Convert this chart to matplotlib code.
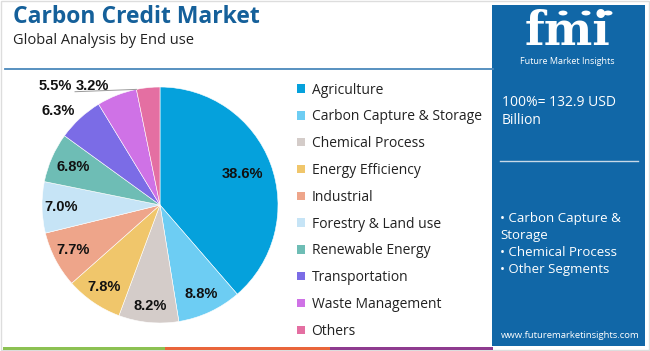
import matplotlib
matplotlib.use("Agg")
import matplotlib.pyplot as plt
from matplotlib.patches import Rectangle, Circle, Patch
import numpy as np

W, H = 650, 351

categories = ["Agriculture", "Carbon Capture & Storage", "Chemical Process",
              "Energy Efficiency", "Industrial", "Forestry & Land use",
              "Renewable Energy", "Transportation", "Waste Management", "Others"]
shares = [38.6, 8.8, 8.2, 7.8, 7.7, 7.0, 6.8, 6.3, 5.5, 3.2]
colors = ["#05a1dc", "#6dcdf3", "#d4ccc9", "#f0c66b", "#eea58a",
          "#c6e4f6", "#6ebdb5", "#7b6ce6", "#cf72e6", "#e46fa2"]

title = "Carbon Credit Market"
subtitle = "Global Analysis by End use"
total_text = ["100%= 132.9 USD", "Billion"]
bullets = ["\u2022 Carbon Capture &", "Storage", "\u2022 Chemical Process", "\u2022 Other Segments"]
website = "www.futuremarketinsights.com"

PANEL = "#1167a7"
TITLE_C = "#15609a"

fig = plt.figure(figsize=(W / 100, H / 100), dpi=100)
fig.patch.set_facecolor("white")


def fx(x):
    return x / W


def fy(y):
    return 1 - y / H


# outer faint border
fig.add_artist(Rectangle((fx(1), fy(350)), fx(648), 349 / H, transform=fig.transFigure,
                         facecolor="none", edgecolor="#dddddd", lw=1))

# title / subtitle
fig.text(fx(13), fy(17), title, fontsize=16.5, fontweight="bold", color=TITLE_C,
         family="Open Sans", va="center", ha="left")
fig.text(fx(13), fy(40), subtitle, fontsize=10.5, color="#222222",
         family="Open Sans", va="center", ha="left")

# header rule
fig.add_artist(plt.Line2D([fx(5), fx(493)], [fy(69), fy(69)], transform=fig.transFigure,
                          color="#4a88bb", lw=1.3))

# bottom colour strip
for x0, x1, c in [(3, 165, "#8cc152"), (165, 330, "#e9653b"), (330, 493, "#8e3b8f")]:
    fig.add_artist(Rectangle((fx(x0), fy(349.5)), fx(x1 - x0), 3 / H, transform=fig.transFigure,
                             facecolor=c, edgecolor="none"))

# right panel
fig.add_artist(Rectangle((fx(492), fy(346)), fx(153), 341 / H, transform=fig.transFigure,
                         facecolor=PANEL, edgecolor="none"))

# fmi logo
fig.text(fx(567), fy(32), "fmi", fontsize=33, fontweight="bold", family="DejaVu Serif",
         color="white", ha="center", va="center")
for yy in np.arange(18, 54, 3.2):
    fig.add_artist(plt.Line2D([fx(508), fx(628)], [fy(yy), fy(yy)], transform=fig.transFigure,
                              color=PANEL, lw=0.6))
for cxp in (563, 586, 608):
    fig.add_artist(Circle((fx(cxp), fy(13)), 4.5 / W, transform=fig.transFigure,
                          facecolor="white", edgecolor="none"))
fig.text(fx(567), fy(62), "Future Market Insights", fontsize=6.5, color="white",
         family="Open Sans", ha="center", va="center")

fig.text(fx(502), fy(102), total_text[0], fontsize=10, color="white", family="Open Sans",
         ha="left", va="center")
fig.text(fx(502), fy(121), total_text[1], fontsize=10, color="white", family="Open Sans",
         ha="left", va="center")
fig.add_artist(plt.Line2D([fx(500), fx(638)], [fy(161), fy(161)], transform=fig.transFigure,
                          color="#c8d9e8", lw=1))
for i, b in enumerate(bullets):
    yy = [218, 235.5, 253, 270][i]
    fig.text(fx(500), fy(yy), b, fontsize=9.5, color="white", family="Open Sans",
             ha="left", va="center")
fig.text(fx(570), fy(335), website, fontsize=6.8, color="white", family="Open Sans",
         ha="center", va="center")

# pie
cx, cy, r = 160, 205, 118
half = 140
ax = fig.add_axes([fx(cx - half), (H - cy - half) / H, 2 * half / W, 2 * half / H])
R = half / r
wedges, _ = ax.pie(shares, colors=colors, startangle=90, counterclock=False,
                   radius=1, wedgeprops=dict(edgecolor="white", linewidth=0.4))
ax.set_xlim(-R, R)
ax.set_ylim(-R, R)
ax.set_aspect("equal")
ax.axis("off")

inside_dist = [0.75, 0.83, 0.86, 0.84, 0.83, 0.84, 0.80]
label_font = dict(fontsize=10.5, fontweight="bold", family="Liberation Sans",
                  color="#111111", ha="center", va="center")
for i, w in enumerate(wedges):
    txt = f"{shares[i]:.1f}%"
    ang = np.deg2rad((w.theta1 + w.theta2) / 2)
    if i < len(inside_dist):
        d = inside_dist[i]
        ax.text(d * np.cos(ang), d * np.sin(ang), txt, **label_font)

# outside labels for the small slices
ax.text(-0.865, 0.80, f"{shares[7]:.1f}%", **label_font)
ax.text(-0.89, 1.01, f"{shares[8]:.1f}%", **label_font)
ax.text(-0.57, 1.01, f"{shares[9]:.1f}%", **label_font)
th = np.deg2rad(max(wedges[9].theta1, wedges[9].theta2))
ax.plot([-0.72, np.cos(th)], [0.96, np.sin(th)], color="#999999", lw=0.7, clip_on=False)

# legend
handles = [Patch(facecolor=c, edgecolor="none") for c in colors]
leg = fig.legend(handles, categories, loc="upper left", bbox_to_anchor=(fx(297), fy(82.5)),
                 frameon=False, fontsize=10, handlelength=0.55, handleheight=0.55,
                 handletextpad=0.5, labelspacing=0.85, borderpad=0, borderaxespad=0)
for t in leg.get_texts():
    t.set_family("Open Sans")
    t.set_color("#222222")

fig.savefig("out.png", dpi=100)
